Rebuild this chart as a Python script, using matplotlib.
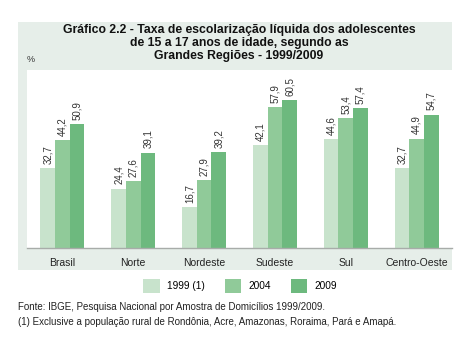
import numpy as np
import matplotlib
matplotlib.use('Agg')
from matplotlib import pyplot as plt
from matplotlib.patches import Rectangle, Patch

regions = ['Brasil', 'Norte', 'Nordeste', 'Sudeste', 'Sul', 'Centro-Oeste']
series_labels = ['1999 (1)', '2004', '2009']
v1999 = [32.7, 24.4, 16.7, 42.1, 44.6, 32.7]
v2004 = [44.2, 27.6, 27.9, 57.9, 53.4, 44.9]
v2009 = [50.9, 39.1, 39.2, 60.5, 57.4, 54.7]
colors = ['#c8e3cc', '#90ca99', '#6db97e']

plt.rcParams['font.family'] = ['Liberation Sans', 'DejaVu Sans']

W, H = 470, 350
fig = plt.figure(figsize=(W / 100, H / 100), dpi=100)
fig.patch.set_facecolor('white')

# light panel behind title, plot and category labels
fig.patches.append(Rectangle((18 / W, 1 - 270 / H), 434 / W, 248 / H,
                             transform=fig.transFigure, facecolor='#e6eee9',
                             edgecolor='none', zorder=-5))

ax = fig.add_axes([27 / W, 1 - 248 / H, 425 / W, 178 / H])
ax.set_facecolor('white')

x = np.arange(len(regions)) + 0.5
w = 0.207
for i, (vals, c) in enumerate(zip([v1999, v2004, v2009], colors)):
    pos = x + (i - 1) * w
    ax.bar(pos, vals, width=w, color=c, edgecolor='none', zorder=2)
    for p, v in zip(pos, vals):
        ax.annotate(('%.1f' % v).replace('.', ','), (p, v), xytext=(0, 3),
                    textcoords='offset points', rotation=90, ha='center',
                    va='bottom', fontsize=7, color='#333333')

ax.set_xlim(0, len(regions))
ax.set_ylim(0, 73)
ax.set_xticks(x)
ax.set_xticklabels(regions, fontsize=7.5, color='#222222')
ax.tick_params(axis='x', length=0, pad=7)
ax.set_yticks([])
for s in ['top', 'right', 'left']:
    ax.spines[s].set_visible(False)
ax.spines['bottom'].set_color('#a8aca9')
ax.spines['bottom'].set_linewidth(1)

fig.text(239 / W, 1 - 24 / H,
         'Gráfico 2.2 - Taxa de escolarização líquida dos adolescentes\n'
         'de 15 a 17 anos de idade, segundo as\n'
         'Grandes Regiões - 1999/2009',
         ha='center', va='top', fontsize=8.8, fontweight='bold',
         linespacing=1.1, color='#111111')
fig.text(27 / W, 1 - 60 / H, '%', fontsize=6.5, color='#333333',
         ha='left', va='center')

handles = [Patch(facecolor=c, edgecolor='none') for c in colors]
fig.legend(handles, series_labels, loc='center', bbox_to_anchor=(240 / W, 1 - 286 / H),
           ncol=3, frameon=False, fontsize=7.3, handlelength=1.6, handleheight=1.6,
           handletextpad=0.7, columnspacing=2.0)

fig.text(18 / W, 1 - 307 / H,
         'Fonte: IBGE, Pesquisa Nacional por Amostra de Domicílios 1999/2009.',
         fontsize=7, color='#222222', ha='left', va='center')
fig.text(18 / W, 1 - 322 / H,
         '(1) Exclusive a população rural de Rondônia, Acre, Amazonas, Roraima, Pará e Amapá.',
         fontsize=7, color='#222222', ha='left', va='center')

fig.savefig('out.png', dpi=100)
